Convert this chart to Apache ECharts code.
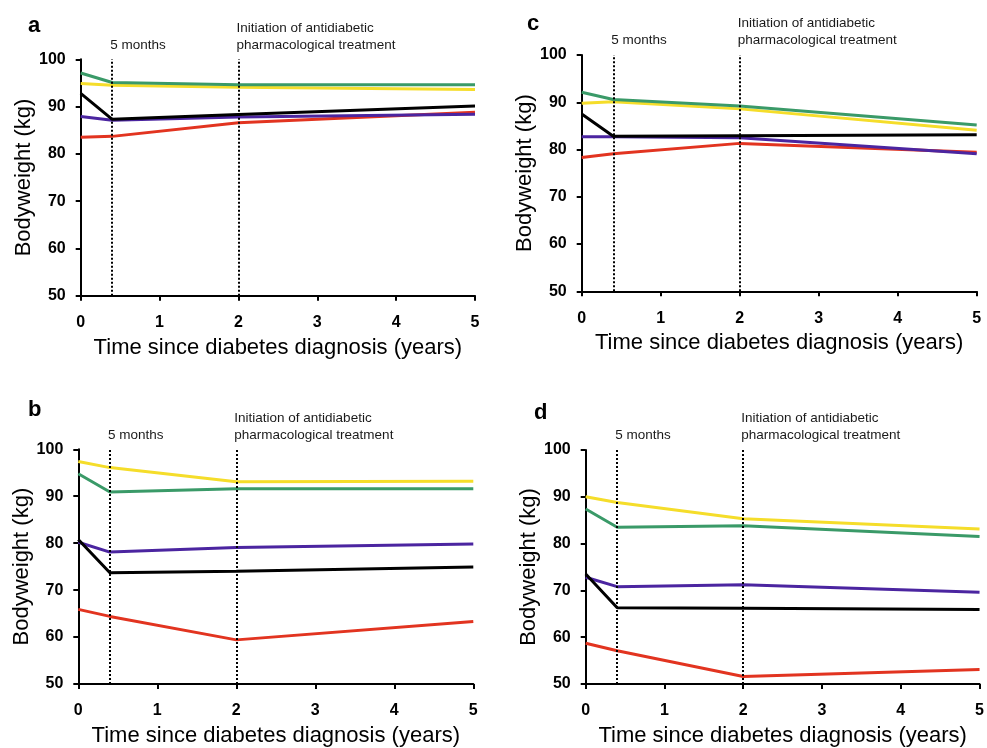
<!DOCTYPE html>
<html>
<head>
<meta charset="utf-8">
<script src="https://cdn.jsdelivr.net/npm/echarts@6/dist/echarts.min.js"></script>
<style>html,body{margin:0;padding:0;background:#fff}#c{width:987px;height:748px}</style>
</head>
<body>
<div id="c"></div>
<script>
// time points (years since diagnosis): baseline, 5 months, 2 years, 5 years
const timePoints = [0, 0.4, 2, 5];
const xTicks = [0, 1, 2, 3, 4, 5];
const yTicks = [50, 60, 70, 80, 90, 100];
const markerTimes = [0.4, 2];
const markerLabels = ['5 months', 'Initiation of antidiabetic\npharmacological treatment'];
const panelLetters = ['a', 'c', 'b', 'd'];

// panel a
const aGreen  = [97.1, 95.1, 94.6, 94.6];
const aYellow = [94.9, 94.5, 94.1, 93.6];
const aBlack  = [92.8, 87.3, 88.3, 90.1];
const aPurple = [87.9, 87.1, 87.8, 88.4];
const aRed    = [83.5, 83.7, 86.6, 88.8];
// panel c
const cGreen  = [92.1, 90.6, 89.2, 85.2];
const cYellow = [89.8, 90.1, 88.6, 84.1];
const cBlack  = [87.5, 82.8, 82.9, 83.1];
const cPurple = [82.7, 82.7, 82.5, 79.1];
const cRed    = [78.3, 79.1, 81.3, 79.4];
// panel b
const bGreen  = [94.8, 90.9, 91.6, 91.6];
const bYellow = [97.4, 96.1, 93.1, 93.2];
const bBlack  = [80.8, 73.7, 74.0, 74.9];
const bPurple = [80.2, 78.1, 79.1, 79.8];
const bRed    = [65.9, 64.4, 59.4, 63.3];
// panel d
const dGreen  = [87.4, 83.5, 83.8, 81.5];
const dYellow = [90.0, 88.8, 85.3, 83.1];
const dBlack  = [73.5, 66.3, 66.2, 65.9];
const dPurple = [72.8, 70.8, 71.2, 69.6];
const dRed    = [58.7, 57.1, 51.6, 53.1];

const panels = [
  {red: aRed, yellow: aYellow, green: aGreen, purple: aPurple, black: aBlack},
  {red: cRed, yellow: cYellow, green: cGreen, purple: cPurple, black: cBlack},
  {red: bRed, yellow: bYellow, green: bGreen, purple: bPurple, black: bBlack},
  {red: dRed, yellow: dYellow, green: dGreen, purple: dPurple, black: dBlack}
];
const colors = {red: '#e23420', yellow: '#f5dd2a', green: '#3a9a68', purple: '#4b25a0', black: '#000000'};
const order = ['red', 'yellow', 'green', 'purple', 'black'];

const grids = [
  {left: 80.7, top: 59.3, width: 394.3, height: 236.4},
  {left: 581.7, top: 55, width: 395, height: 236.3},
  {left: 78.3, top: 449.3, width: 395, height: 235.7},
  {left: 585.7, top: 450, width: 394.3, height: 236}
];
const letterPos = [[23, 10], [522, 8], [23, 394], [529, 397]];

const FONT = '"Liberation Sans", Arial, sans-serif';
const option = {
  backgroundColor: '#fff',
  animation: false,
  title: panelLetters.map((t, i) => ({
    text: t, left: letterPos[i][0], top: letterPos[i][1],
    textStyle: {fontFamily: FONT, fontWeight: 'bold', fontSize: 22, color: '#000'}
  })),
  grid: grids,
  xAxis: grids.map((g, i) => ({
    type: 'value', gridIndex: i, min: 0, max: 5, interval: 1,
    name: 'Time since diabetes diagnosis (years)', nameLocation: 'middle', nameGap: 41,
    nameTextStyle: {fontFamily: FONT, fontSize: 22, color: '#000'},
    axisLine: {show: true, onZero: false, lineStyle: {color: '#000', width: 2}},
    axisTick: {show: true, length: 5, lineStyle: {color: '#000', width: 2}},
    axisLabel: {fontFamily: FONT, fontWeight: 'bold', fontSize: 16, color: '#000', margin: 19,
      formatter: v => xTicks.includes(v) ? String(v) : ''},
    splitLine: {show: false}
  })),
  yAxis: grids.map((g, i) => ({
    type: 'value', gridIndex: i, min: 50, max: 100, interval: 10,
    name: 'Bodyweight (kg)', nameLocation: 'middle', nameGap: 38, nameRotate: 90,
    nameTextStyle: {fontFamily: FONT, fontSize: 22, color: '#000'},
    axisLine: {show: true, lineStyle: {color: '#000', width: 2}},
    axisTick: {show: true, length: 5, lineStyle: {color: '#000', width: 2}},
    axisLabel: {fontFamily: FONT, fontWeight: 'bold', fontSize: 16, color: '#000', margin: 15,
      formatter: v => yTicks.includes(v) ? String(v) : ''},
    splitLine: {show: false}
  })),
  series: []
};

panels.forEach((p, i) => {
  // dotted vertical markers
  option.series.push({
    type: 'line', xAxisIndex: i, yAxisIndex: i, data: [], silent: true,
    markLine: {
      symbol: 'none', silent: true,
      lineStyle: {type: [2, 2], color: '#000', width: 2},
      data: markerTimes.map((t, k) => ({
        xAxis: t,
        label: {show: true, position: 'end', formatter: markerLabels[k], align: 'left',
          verticalAlign: 'bottom', distance: 6, offset: [-2, 0],
          fontFamily: FONT, fontSize: 13.5, color: '#1a1a1a', lineHeight: 17}
      }))
    }
  });
  order.forEach(key => {
    option.series.push({
      type: 'line', name: key, xAxisIndex: i, yAxisIndex: i,
      data: timePoints.map((t, k) => [t, p[key][k]]),
      showSymbol: false, symbol: 'none',
      lineStyle: {color: colors[key], width: 3},
      itemStyle: {color: colors[key]}
    });
  });
});

const chart = echarts.init(document.getElementById('c'), null, {renderer: 'canvas'});
chart.setOption(option);
</script>
</body>
</html>
